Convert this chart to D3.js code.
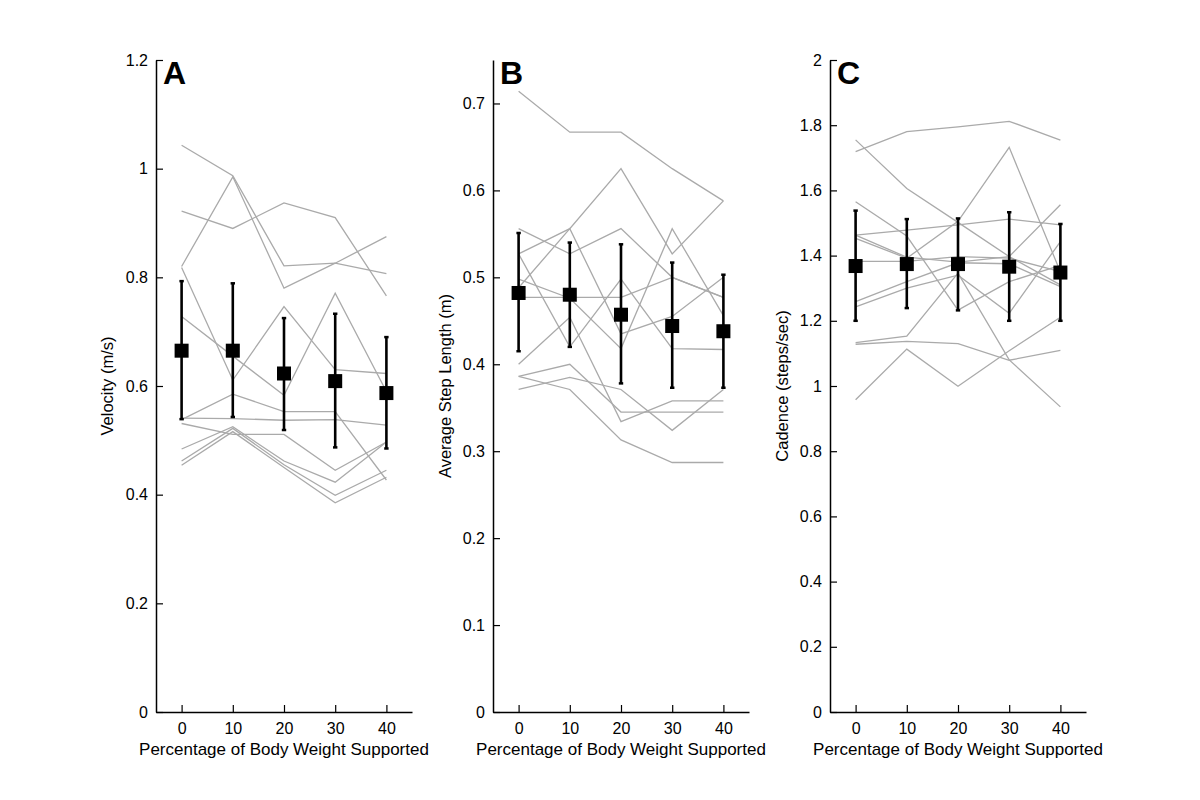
<!DOCTYPE html>
<html><head><meta charset="utf-8">
<script src="https://cdn.jsdelivr.net/npm/d3@7"></script>
<style>
body{margin:0;background:#fff;}
svg text{font-family:"Liberation Sans",Arial,Helvetica,sans-serif;fill:#000;}
</style></head>
<body><svg id="chart" width="1200" height="800"></svg>
<script>
const xCategories = [0, 10, 20, 30, 40];
const xTickLabels = ["0", "10", "20", "30", "40"];
const xAxisTitle = "Percentage of Body Weight Supported";

// Panel A: Velocity (m/s)
const velocityTicks = [0, 0.2, 0.4, 0.6, 0.8, 1, 1.2];
const velocitySubjects = [
  [1.043, 0.987, 0.821, 0.826, 0.807],
  [0.922, 0.890, 0.937, 0.910, 0.766],
  [0.820, 0.985, 0.780, 0.826, 0.875],
  [0.818, 0.611, 0.746, 0.630, 0.623],
  [0.728, 0.655, 0.583, 0.771, 0.590],
  [0.541, 0.540, 0.537, 0.538, 0.528],
  [0.538, 0.585, 0.553, 0.553, 0.427],
  [0.531, 0.511, 0.511, 0.445, 0.497],
  [0.484, 0.525, 0.462, 0.423, 0.497],
  [0.462, 0.522, 0.455, 0.399, 0.445],
  [0.454, 0.516, 0.450, 0.385, 0.432]
];
const velocityMean = [0.665, 0.665, 0.623, 0.609, 0.587];
const velocityUpper = [0.793, 0.789, 0.725, 0.733, 0.690];
const velocityLower = [0.539, 0.543, 0.519, 0.487, 0.485];

// Panel B: Average Step Length (m)
const stepTicks = [0, 0.1, 0.2, 0.3, 0.4, 0.5, 0.6, 0.7];
const stepSubjects = [
  [0.714, 0.667, 0.667, 0.625, 0.588],
  [0.527, 0.556, 0.625, 0.527, 0.588],
  [0.556, 0.527, 0.556, 0.500, 0.477],
  [0.527, 0.420, 0.498, 0.418, 0.417],
  [0.498, 0.476, 0.418, 0.556, 0.456],
  [0.477, 0.477, 0.477, 0.500, 0.477],
  [0.400, 0.454, 0.334, 0.358, 0.358],
  [0.488, 0.556, 0.435, 0.455, 0.500],
  [0.386, 0.400, 0.345, 0.345, 0.345],
  [0.386, 0.371, 0.313, 0.287, 0.287],
  [0.371, 0.385, 0.371, 0.324, 0.371]
];
const stepMean = [0.482, 0.480, 0.457, 0.444, 0.438];
const stepUpper = [0.551, 0.540, 0.538, 0.517, 0.503];
const stepLower = [0.415, 0.420, 0.378, 0.373, 0.373];

// Panel C: Cadence (steps/sec)
const cadenceTicks = [0, 0.2, 0.4, 0.6, 0.8, 1, 1.2, 1.4, 1.6, 1.8, 2];
const cadenceSubjects = [
  [1.719, 1.780, 1.795, 1.812, 1.754],
  [1.755, 1.606, 1.502, 1.397, 1.310],
  [1.565, 1.460, 1.233, 1.320, 1.370],
  [1.463, 1.478, 1.494, 1.512, 1.494],
  [1.453, 1.392, 1.505, 1.732, 1.350],
  [1.382, 1.382, 1.397, 1.392, 1.351],
  [1.259, 1.320, 1.378, 1.375, 1.305],
  [1.243, 1.300, 1.340, 1.223, 1.443],
  [1.133, 1.153, 1.346, 1.080, 0.936],
  [1.128, 1.137, 1.130, 1.079, 1.109],
  [0.958, 1.113, 0.999, 1.108, 1.211],
  [1.463, 1.395, 1.380, 1.397, 1.556]
];
const cadenceMean = [1.368, 1.374, 1.374, 1.366, 1.348];
const cadenceUpper = [1.538, 1.512, 1.514, 1.533, 1.497];
const cadenceLower = [1.200, 1.239, 1.232, 1.200, 1.200];

const panelLetters = ["A", "B", "C"];
const yTitles = ["Velocity (m/s)", "Average Step Length (m)", "Cadence (steps/sec)"];

const panels = [
  {letter: panelLetters[0], title: yTitles[0], ticks: velocityTicks, yMax: 1.2, subjects: velocitySubjects, mean: velocityMean, upper: velocityUpper, lower: velocityLower, left: 156, titleX: 107},
  {letter: panelLetters[1], title: yTitles[1], ticks: stepTicks, yMax: 0.75, subjects: stepSubjects, mean: stepMean, upper: stepUpper, lower: stepLower, left: 493, titleX: 445},
  {letter: panelLetters[2], title: yTitles[2], ticks: cadenceTicks, yMax: 2, subjects: cadenceSubjects, mean: cadenceMean, upper: cadenceUpper, lower: cadenceLower, left: 830, titleX: 782}
];

const svg = d3.select("#chart");
const plotTop = 60, plotBottom = 712, plotW = 256;

panels.forEach(p => {
  const g = svg.append("g");
  const x = d3.scaleLinear().domain([-5, 45]).range([p.left, p.left + plotW]);
  const y = d3.scaleLinear().domain([0, p.yMax]).range([plotBottom, plotTop]);

  const line = d3.line().x((d, i) => x(xCategories[i])).y(d => y(d));
  g.selectAll(".subj").data(p.subjects).enter().append("path")
    .attr("d", line).attr("fill", "none")
    .attr("stroke", "#aaaaaa").attr("stroke-width", 1.3);

  const yAxis = d3.axisLeft(y).tickValues(p.ticks).tickSizeInner(-7).tickSizeOuter(0)
    .tickFormat(d3.format("~g"));
  const ya = g.append("g").attr("transform", `translate(${p.left},0)`).call(yAxis);
  ya.select(".domain").attr("stroke", "#000").attr("stroke-width", 1.5);
  ya.selectAll(".tick line").attr("stroke", "#000").attr("stroke-width", 1.2);
  ya.selectAll("text").attr("font-size", 16).attr("x", -8);

  const xAxis = d3.axisBottom(x).tickValues(xCategories).tickSizeInner(-7).tickSizeOuter(0)
    .tickFormat((d, i) => xTickLabels[i]);
  const xa = g.append("g").attr("transform", `translate(0,${plotBottom})`).call(xAxis);
  xa.select(".domain").attr("stroke", "#000").attr("stroke-width", 1.5);
  xa.selectAll(".tick line").attr("stroke", "#000").attr("stroke-width", 1.2);
  xa.selectAll("text").attr("font-size", 16).attr("y", 11);

  const eb = g.selectAll(".eb").data(p.mean).enter().append("g");
  eb.append("line").attr("x1", (d, i) => x(xCategories[i])).attr("x2", (d, i) => x(xCategories[i]))
    .attr("y1", (d, i) => y(p.upper[i])).attr("y2", (d, i) => y(p.lower[i]))
    .attr("stroke", "#000").attr("stroke-width", 2.6);
  ["upper", "lower"].forEach(k => {
    eb.append("line").attr("x1", (d, i) => x(xCategories[i]) - 2.2).attr("x2", (d, i) => x(xCategories[i]) + 2.2)
      .attr("y1", (d, i) => y(p[k][i])).attr("y2", (d, i) => y(p[k][i]))
      .attr("stroke", "#000").attr("stroke-width", 2.5);
  });
  const s = 14;
  eb.append("rect").attr("x", (d, i) => x(xCategories[i]) - s / 2).attr("y", d => y(d) - s / 2)
    .attr("width", s).attr("height", s).attr("fill", "#000");

  g.append("text").attr("transform", `translate(${p.titleX},${(plotTop + plotBottom) / 2}) rotate(-90)`)
    .attr("text-anchor", "middle").attr("dominant-baseline", "central")
    .attr("font-size", 16.5).text(p.title);
  g.append("text").attr("x", p.left + plotW / 2).attr("y", 755).attr("text-anchor", "middle")
    .attr("font-size", 17).text(xAxisTitle);
  g.append("text").attr("x", p.left + 7).attr("y", 84).attr("font-size", 32)
    .attr("font-weight", "bold").text(p.letter);
});
</script></body></html>
